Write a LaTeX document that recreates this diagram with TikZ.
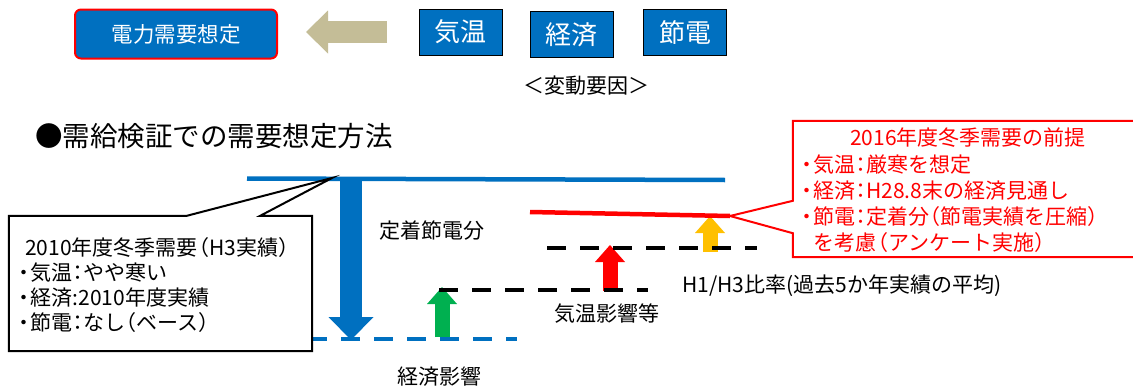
\documentclass[tikz,border=0pt]{standalone}
\usepackage{fontspec}
\setmainfont{Noto Sans CJK JP}
\usetikzlibrary{arrows.meta}
\definecolor{denblue}{HTML}{0070C0}
\definecolor{denred}{HTML}{FF0000}
\definecolor{dengreen}{HTML}{00B050}
\definecolor{denyellow}{HTML}{FFC000}
\definecolor{denkhaki}{HTML}{C4BD97}
\newcommand{\kakkoL}{\kern-.45em（}
\newcommand{\kakkoR}{）\kern-.45em}
\newcommand{\colonH}{\kern-.25em：\kern-.25em}
\newcommand{\tenH}{\kern-.3em・\kern-.2em}
\begin{document}
\begin{tikzpicture}[x=1pt, y=-1pt,
  every node/.style={font=\fontsize{21}{26}\selectfont, inner sep=0pt},
  mainbox/.style={draw=denred, line width=2pt, fill=denblue, rounded corners=6pt, text=white, minimum width=202pt, minimum height=49pt},
  factor/.style={draw=black, line width=1pt, fill=denblue, text=white, font=\fontsize{26}{30}\selectfont, minimum width=83pt, minimum height=46pt},
  level/.style={line width=4.5pt},
  dashlevel/.style={line width=4pt, dash pattern=on 19pt off 14pt},
  uparrow/.style={line width=15pt, -{Triangle[width=30pt, length=17pt, line width=0pt]}},
  bluedown/.style={line width=22pt, -{Triangle[width=45pt, length=23pt, line width=0pt]}},
  backarrow/.style={line width=22pt, -{Triangle[width=43pt, length=22pt, line width=0pt]}},
  calloutline/.style={line width=2pt, fill=white},
]
\useasboundingbox (0,0) rectangle (1133,388);
\fill[white] (0,0) rectangle (1133,388);

\node[mainbox, font=\fontsize{21.5}{26}\selectfont] (souteigen) at (176,34) {電力需要想定};
\node[factor] (kion) at (460.5,32) {気温};
\node[factor] (keizai) at (571.5,34.5) {経済};
\node[factor] (setsuden) at (685,32) {節電};
\node (youin) at (586,86) {＜変動要因＞};
\coordinate (backS) at (387,32);
\coordinate (backE) at (306,32);
\draw[backarrow, denkhaki] (backS) -- (backE);

\node[font=\fontsize{27.5}{30}\selectfont, anchor=west] (title) at (35,136) {●需給検証での需要想定方法};

\coordinate (baseL) at (247,178.5);
\coordinate (baseR) at (725,180);
\coordinate (newL) at (530,212);
\coordinate (newR) at (730,216);
\coordinate (tempL) at (547,248);
\coordinate (tempR) at (757,248);
\coordinate (econL) at (439,290);
\coordinate (econR) at (648,290);
\coordinate (cutL) at (308,339);
\coordinate (cutR) at (517,339);

\coordinate (cutTop) at (351,181);
\coordinate (cutTip) at (351,340);
\coordinate (econS) at (442,337);
\coordinate (econTip) at (442,287);
\coordinate (tempS) at (610,291);
\coordinate (tempTip) at (610,245);
\coordinate (newS) at (710,252);
\coordinate (newTip) at (710,216);
\draw[bluedown, denblue] (cutTop) -- (cutTip);
\draw[uparrow, dengreen] (econS) -- (econTip);
\draw[uparrow, denred] (tempS) -- (tempTip);
\draw[uparrow, denyellow] (newS) -- (newTip);

\draw[level, denblue] (baseL) -- (baseR);
\draw[level, denred] (newL) -- (newR);
\draw[dashlevel] (tempL) -- (tempR);
\draw[dashlevel] (econL) -- (econR);
\draw[dashlevel, denblue] (cutL) -- (cutR);

\node (teichaku) at (432,231) {定着節電分};
\node (keizaiE) at (439,377) {経済影響};
\node (kionE) at (607,314) {気温影響等};
\node[anchor=west] (hiritsu) at (682,286) {H1/H3比率(過去5か年実績の平均)};

\node[minimum width=303pt, minimum height=135pt] (oldbox) at (160.5,283.5) {};
\coordinate (oldtip) at (332,178);
\draw[calloutline] (oldbox.north west) -- ++(178,0) -- (oldtip) -- ([xshift=-52pt]oldbox.north east) -- (oldbox.north east) -- (oldbox.south east) -- (oldbox.south west) -- cycle;
\node[font=\fontsize{21}{25.3}\selectfont, align=left, anchor=west] (oldtxt) at (20,285) {\hspace{5pt}2010年度冬季需要\kakkoL H3実績\kakkoR\\\tenH 気温\colonH やや寒い\\\tenH 経済:2010年度実績\\\tenH 節電\colonH なし\kakkoL ベース\kakkoR};

\node[minimum width=343pt, minimum height=136pt] (newbox) at (964.5,189) {};
\coordinate (newtip) at (730,216);
\draw[calloutline, draw=denred] (newbox.north west) -- (newbox.north east) -- (newbox.south east) -- (newbox.south west) -- ([yshift=24pt]newbox.south west) -- (newtip) -- ([yshift=-80pt]newbox.north west) -- cycle;
\node[text=denred] (newhead) at (968,138) {2016年度冬季需要の前提};
\node[text=denred, align=left, anchor=west] (newtxt) at (803,204) {\tenH 気温\colonH 厳寒を想定\\\tenH 経済\colonH H28.8末の経済見通し\\\tenH 節電\colonH 定着分\kakkoL 節電実績を圧縮\kakkoR\\\hspace{10.5pt}を考慮\kakkoL アンケート実施\kakkoR};
\end{tikzpicture}
\end{document}
